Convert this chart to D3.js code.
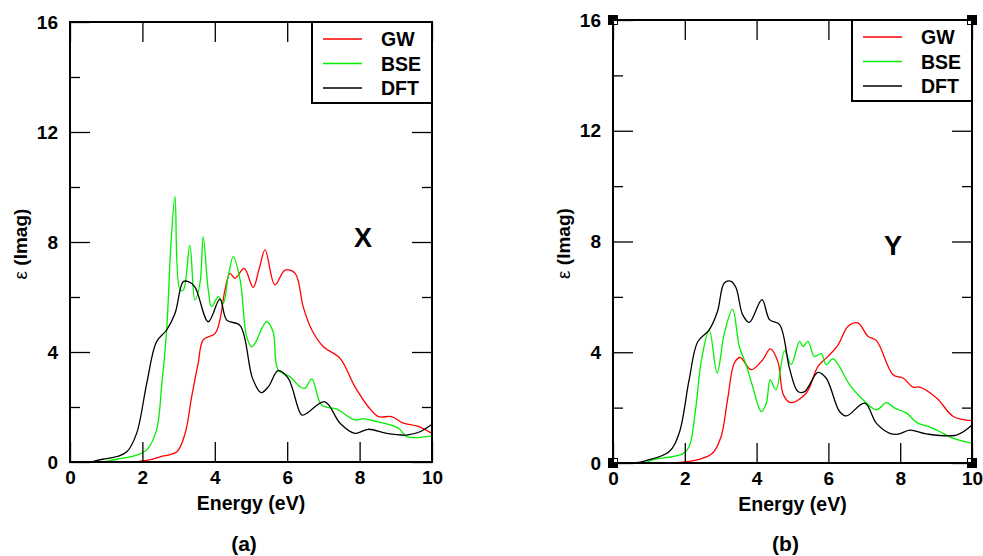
<!DOCTYPE html>
<html>
<head>
<meta charset="utf-8">
<script src="https://cdn.jsdelivr.net/npm/d3@7"></script>
<style>
  body { margin: 0; background: #fff; }
  text { font-family: "Liberation Sans", Arial, sans-serif; font-weight: bold; }
</style>
</head>
<body>
<div id="chart"></div>
<script>
// ---- data: [energy (eV), eps imag] ----
const xTicks = [0, 2, 4, 6, 8, 10];
const yTicks = [0, 4, 8, 12, 16];
const yMinor = [2, 6, 10, 14];
const seriesNames = ["GW", "BSE", "DFT"];
const seriesColors = ["#ff0000", "#00f000", "#000000"];

const gwX = [[1.7,0],[2.2,0.08],[2.49,0.19],[2.95,0.37],[3.18,1.04],[3.36,2.37],[3.54,3.59],[3.68,4.44],[4.01,4.68],[4.14,5.16],[4.28,6.25],[4.42,6.86],[4.56,6.68],[4.81,7.04],[5.06,6.35],[5.22,7.0],[5.39,7.71],[5.66,6.44],[5.94,6.98],[6.22,6.86],[6.44,5.65],[6.68,4.80],[7.00,4.19],[7.46,3.77],[7.87,2.74],[8.24,2.01],[8.52,1.65],[8.88,1.65],[9.21,1.41],[9.58,1.31],[10,1.04]];
const bseX = [[0.9,0],[1.3,0.1],[1.84,0.25],[2.12,0.44],[2.39,1.16],[2.53,2.74],[2.67,4.8],[2.79,7.95],[2.9,9.65],[3.04,6.25],[3.13,6.25],[3.31,7.89],[3.45,5.89],[3.59,6.5],[3.68,8.19],[3.82,6.25],[3.91,5.65],[4.10,6.01],[4.23,5.77],[4.37,6.74],[4.51,7.47],[4.70,6.62],[4.88,4.56],[5.02,4.19],[5.11,4.31],[5.43,5.10],[5.61,4.74],[5.75,3.35],[6.08,3.10],[6.35,2.74],[6.49,2.68],[6.68,3.02],[6.95,2.07],[7.37,1.92],[7.87,1.53],[8.10,1.58],[8.38,1.50],[9.07,1.23],[9.30,0.92],[10,0.95]];
const dftX = [[0.6,0],[0.9,0.1],[1.3,0.2],[1.57,0.37],[1.84,1.04],[2.12,2.86],[2.39,4.37],[2.67,4.8],[2.9,5.4],[3.13,6.56],[3.27,6.56],[3.45,6.37],[3.82,5.1],[4.14,5.92],[4.33,5.16],[4.70,4.96],[5.04,3.05],[5.28,2.52],[5.48,2.74],[5.75,3.32],[6.03,3.04],[6.40,1.71],[6.54,1.77],[7.04,2.19],[7.46,1.41],[7.87,1.04],[8.24,1.19],[8.75,1.04],[9.30,0.98],[9.67,1.10],[10,1.37]];

const gwY = [[1.7,0],[2.40,0.13],[2.77,0.35],[3.01,0.95],[3.19,2.28],[3.38,3.61],[3.54,3.81],[3.85,3.37],[4.17,3.73],[4.38,4.12],[4.59,3.67],[4.75,2.45],[4.95,2.18],[5.38,2.52],[5.71,3.49],[5.99,3.85],[6.27,4.27],[6.55,4.94],[6.82,5.06],[7.10,4.58],[7.34,4.42],[7.80,3.19],[8.08,3.07],[8.36,2.74],[8.55,2.74],[9.02,2.34],[9.48,1.68],[10,1.53]];
const bseY = [[0.9,0],[1.10,0.11],[1.94,0.33],[2.12,0.59],[2.31,2.03],[2.45,3.61],[2.68,4.81],[2.90,3.25],[3.10,4.68],[3.33,5.55],[3.52,4.20],[3.71,3.54],[3.89,2.76],[4.13,1.86],[4.27,2.16],[4.38,3.0],[4.54,2.64],[4.78,4.06],[4.96,3.55],[5.20,4.39],[5.29,4.21],[5.43,4.39],[5.61,3.85],[5.80,3.95],[5.94,3.55],[6.13,3.76],[6.59,2.83],[6.92,2.34],[7.34,1.92],[7.62,2.18],[7.85,1.98],[8.18,1.80],[8.46,1.46],[8.78,1.32],[9.11,1.13],[9.48,0.89],[10,0.71]];
const dftY = [[0.6,0],[0.9,0.08],[1.56,0.41],[1.84,1.07],[2.12,3.0],[2.36,4.38],[2.68,4.81],[2.91,5.47],[3.10,6.5],[3.29,6.56],[3.43,6.32],[3.61,5.36],[3.80,5.08],[4.15,5.90],[4.36,5.18],[4.64,5.0],[4.92,3.4],[5.15,2.58],[5.34,2.58],[5.71,3.27],[5.94,3.06],[6.31,1.86],[6.50,1.70],[7.01,2.16],[7.34,1.43],[7.71,1.07],[7.94,1.04],[8.27,1.19],[8.73,1.05],[9.57,1.01],[10,1.37]];

const panels = [
  { series: [gwX, bseX, dftX], tag: "X", caption: "(a)", left: 70, right: 432, top: 22, bottom: 462, tagPos: [363, 247], handles: false },
  { series: [gwY, bseY, dftY], tag: "Y", caption: "(b)", left: 613, right: 972, top: 20, bottom: 463, tagPos: [893, 255], handles: true }
];

const svg = d3.select("#chart").append("svg")
  .attr("width", 983)
  .attr("height", 556);

svg.append("rect").attr("width", 983).attr("height", 556).attr("fill", "#fff");

panels.forEach(p => {
  const x = d3.scaleLinear().domain([0, 10]).range([p.left, p.right]);
  const y = d3.scaleLinear().domain([0, 16]).range([p.bottom, p.top]);
  const g = svg.append("g");

  // curves
  const line = d3.line()
    .x(d => x(d[0]))
    .y(d => y(d[1]))
    .curve(d3.curveCatmullRom.alpha(0.5));

  p.series.forEach((s, i) => {
    g.append("path")
      .datum(s)
      .attr("fill", "none")
      .attr("stroke", seriesColors[i])
      .attr("stroke-width", 1.3)
      .attr("d", line);
  });

  // axes (ticks point inward)
  const styleAxis = (sel, keepLabels) => {
    sel.select(".domain").remove();
    sel.selectAll(".tick line").attr("stroke", "#000").attr("stroke-width", 1.3);
    if (!keepLabels) sel.selectAll(".tick text").remove();
    else sel.selectAll(".tick text").attr("font-size", 19).attr("fill", "#000");
  };

  g.append("g").attr("transform", `translate(0,${p.bottom})`)
    .call(d3.axisBottom(x).tickValues(xTicks).tickSize(-20).tickPadding(9).tickFormat(d3.format("d")))
    .call(s => styleAxis(s, true));
  g.append("g").attr("transform", `translate(0,${p.top})`)
    .call(d3.axisTop(x).tickValues(xTicks).tickSize(-20))
    .call(s => styleAxis(s, false));
  g.append("g").attr("transform", `translate(${p.left},0)`)
    .call(d3.axisLeft(y).tickValues(yTicks).tickSize(-20).tickPadding(12).tickFormat(d3.format("d")))
    .call(s => styleAxis(s, true));
  g.append("g").attr("transform", `translate(${p.left},0)`)
    .call(d3.axisLeft(y).tickValues(yMinor).tickSize(-10))
    .call(s => styleAxis(s, false));
  g.append("g").attr("transform", `translate(${p.right},0)`)
    .call(d3.axisRight(y).tickValues(yTicks).tickSize(-20))
    .call(s => styleAxis(s, false));
  g.append("g").attr("transform", `translate(${p.right},0)`)
    .call(d3.axisRight(y).tickValues(yMinor).tickSize(-10))
    .call(s => styleAxis(s, false));

  // frame
  g.append("rect")
    .attr("x", p.left).attr("y", p.top)
    .attr("width", p.right - p.left).attr("height", p.bottom - p.top)
    .attr("fill", "none").attr("stroke", "#000").attr("stroke-width", 2);

  // axis titles
  g.append("text")
    .attr("x", (p.left + p.right) / 2).attr("y", p.bottom + 48)
    .attr("text-anchor", "middle").attr("font-size", 19.5)
    .text("Energy (eV)");

  const yl = g.append("text")
    .attr("transform", `translate(${p.left - 43},${(p.top + p.bottom) / 2 + 2}) rotate(-90)`)
    .attr("text-anchor", "middle").attr("font-size", 19);
  yl.append("tspan").attr("font-weight", "normal").text("ε ");
  yl.append("tspan").text("(Imag)");

  g.append("text")
    .attr("x", (p.left + p.right) / 2 - 7).attr("y", 551)
    .attr("text-anchor", "middle").attr("font-size", 21)
    .text(p.caption);

  g.append("text")
    .attr("x", p.tagPos[0]).attr("y", p.tagPos[1])
    .attr("text-anchor", "middle").attr("font-size", 27)
    .text(p.tag);

  // legend
  const lg = g.append("g").attr("transform", `translate(${p.right - 120},${p.top})`);
  lg.append("rect")
    .attr("width", 120).attr("height", 81)
    .attr("fill", "#fff").attr("stroke", "#000").attr("stroke-width", 2);
  seriesNames.forEach((n, i) => {
    const ly = 17 + i * 24.5;
    lg.append("line")
      .attr("x1", 11).attr("x2", 50).attr("y1", ly).attr("y2", ly)
      .attr("stroke", seriesColors[i]).attr("stroke-width", 1.3);
    lg.append("text")
      .attr("x", 69).attr("y", ly + 7)
      .attr("font-size", 19.5).text(n);
  });

  // selection handles at corners (panel b)
  if (p.handles) {
    [[p.left, p.top, 1, 1], [p.right, p.top, -1, 1], [p.left, p.bottom, 1, -1], [p.right, p.bottom, -1, -1]]
      .forEach(([cx, cy, dx, dy]) => {
        g.append("rect").attr("x", cx - 5).attr("y", cy - 5)
          .attr("width", 10).attr("height", 10).attr("fill", "#000");
        g.append("rect")
          .attr("x", dx > 0 ? cx + 1 : cx - 4).attr("y", dy > 0 ? cy + 1 : cy - 4)
          .attr("width", 3).attr("height", 3).attr("fill", "#fff");
      });
  }
});
</script>
</body>
</html>
